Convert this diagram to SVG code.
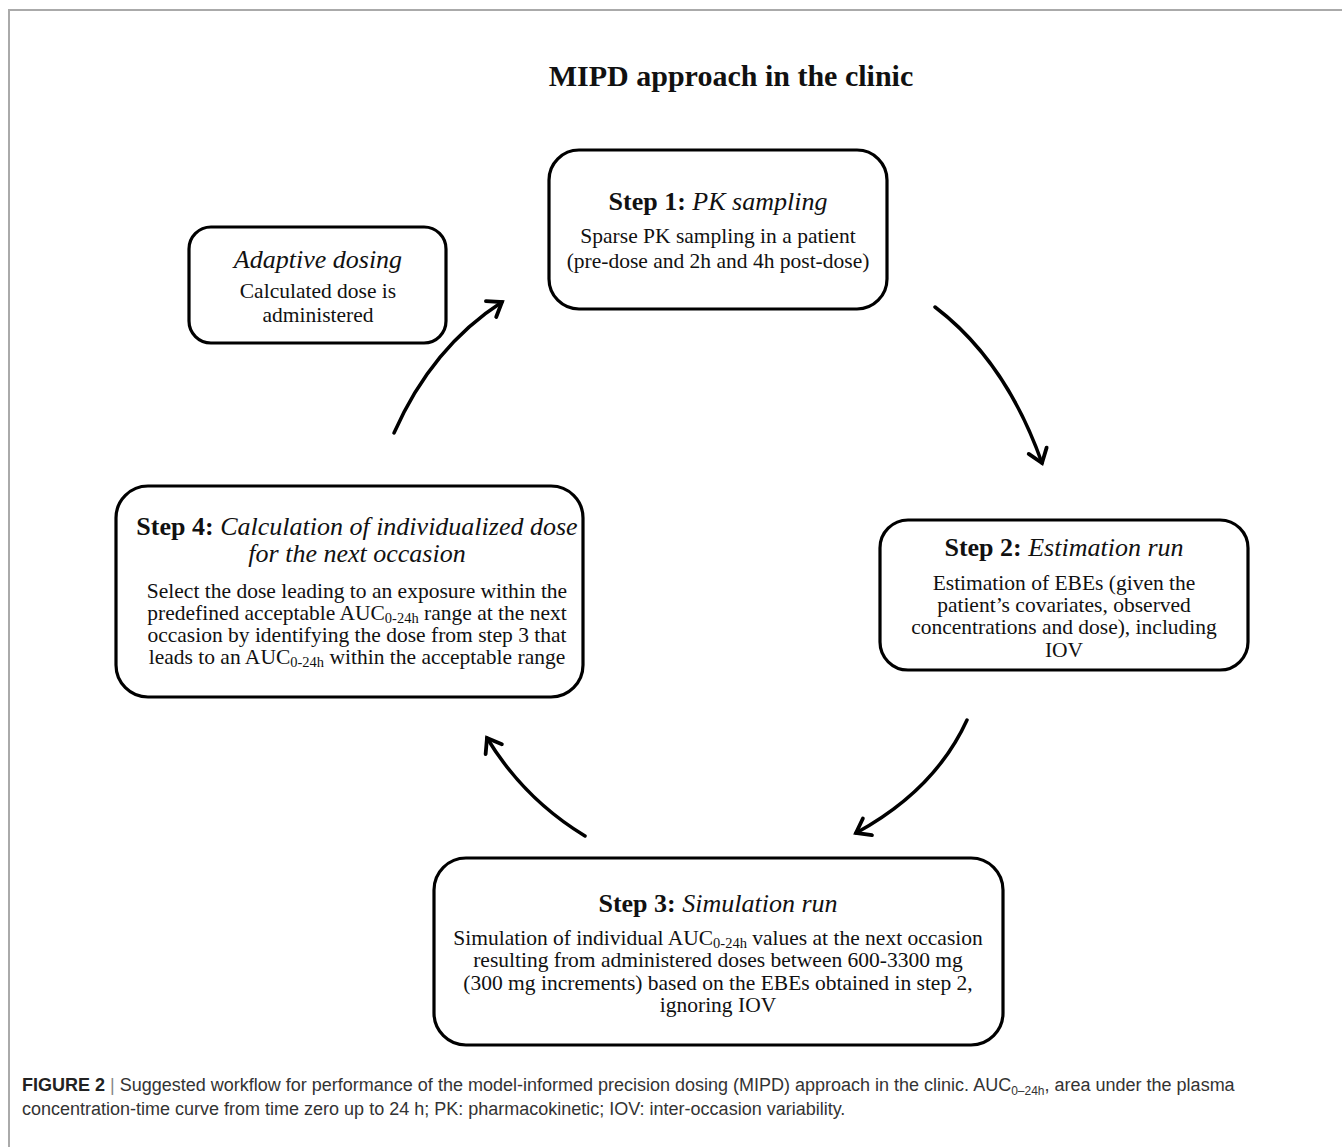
<svg xmlns="http://www.w3.org/2000/svg" width="1342" height="1147" viewBox="0 0 1342 1147">
<style>
.frame{fill:none;stroke:#aaaaaa;stroke-width:2}
.box{fill:#ffffff;stroke:#000000;stroke-width:3.2}
.t{font-family:"Liberation Serif","Times New Roman",serif;fill:#111111;text-anchor:middle}
.h{font-size:26px}
.b{font-size:21.5px}
.bold{font-weight:bold}
.it{font-style:italic}
.sub{font-size:14.5px}
.conn{fill:none;stroke:#000000;stroke-width:3.5;stroke-linecap:round}
.cap{font-family:"Liberation Sans",Arial,sans-serif;font-size:18px;fill:#333333}
</style>
<defs>
<marker id="ah" markerUnits="userSpaceOnUse" markerWidth="26" markerHeight="26" refX="15" refY="13" orient="auto" viewBox="0 0 26 26">
<path d="M2,3.5 L15,13 L2,22.5" fill="none" stroke="#000000" stroke-width="3.8" stroke-linecap="round" stroke-linejoin="miter"/>
</marker>
</defs>
<rect x="0" y="0" width="1342" height="1147" fill="#ffffff"/>
<path class="frame" d="M9,1147 L9,10 L1342,10"/>
<text class="t bold" x="731" y="86" style="font-size:30px">MIPD approach in the clinic</text>

<g id="step1">
<rect class="box" x="549" y="150" width="338" height="159" rx="30"/>
<text class="t h" x="718" y="210"><tspan class="bold">Step 1: </tspan><tspan class="it">PK sampling</tspan></text>
<text class="t b" x="718" y="243">Sparse PK sampling in a patient</text>
<text class="t b" x="718" y="268">(pre-dose and 2h and 4h post-dose)</text>
</g>

<g id="adaptive">
<rect class="box" x="189" y="227" width="257" height="116" rx="22"/>
<text class="t h it" x="318" y="268">Adaptive dosing</text>
<text class="t b" x="318" y="298">Calculated dose is</text>
<text class="t b" x="318" y="322">administered</text>
</g>

<g id="step2">
<rect class="box" x="880" y="520" width="368" height="150" rx="28"/>
<text class="t h" x="1064" y="556"><tspan class="bold">Step 2: </tspan><tspan class="it">Estimation run</tspan></text>
<text class="t b" x="1064" y="590">Estimation of EBEs (given  the</text>
<text class="t b" x="1064" y="612">patient’s covariates, observed</text>
<text class="t b" x="1064" y="634">concentrations and dose), including</text>
<text class="t b" x="1064" y="657">IOV</text>
</g>

<g id="step4">
<rect class="box" x="116" y="486" width="467" height="211" rx="32"/>
<text class="t h" x="357" y="535"><tspan class="bold">Step 4: </tspan><tspan class="it">Calculation of individualized dose</tspan></text>
<text class="t h it" x="357" y="562">for the next occasion</text>
<text class="t b" x="357" y="598">Select the dose leading to an exposure within the</text>
<text class="t b" x="357" y="620">predefined acceptable AUC<tspan class="sub" dy="3">0-24h</tspan><tspan dy="-3"> range at the next</tspan></text>
<text class="t b" x="357" y="642">occasion by identifying the dose from step 3 that</text>
<text class="t b" x="357" y="664">leads to an AUC<tspan class="sub" dy="3">0-24h</tspan><tspan dy="-3"> within the acceptable range</tspan></text>
</g>

<g id="step3">
<rect class="box" x="434" y="858" width="569" height="187" rx="32"/>
<text class="t h" x="718" y="912"><tspan class="bold">Step 3: </tspan><tspan class="it">Simulation run</tspan></text>
<text class="t b" x="718" y="945">Simulation of individual AUC<tspan class="sub" dy="3">0-24h</tspan><tspan dy="-3"> values at the next occasion</tspan></text>
<text class="t b" x="718" y="967">resulting from administered doses between 600-3300 mg</text>
<text class="t b" x="718" y="990">(300 mg increments) based on the EBEs obtained in step 2,</text>
<text class="t b" x="718" y="1012">ignoring IOV</text>
</g>

<g id="connectors">
<path class="conn" d="M394,433 Q432,347 502,302" marker-end="url(#ah)"/>
<path class="conn" d="M935,307 Q1006,361 1042,463" marker-end="url(#ah)"/>
<path class="conn" d="M967,720 Q935,790 856,833" marker-end="url(#ah)"/>
<path class="conn" d="M585,836 Q524,799 487,738" marker-end="url(#ah)"/>
</g>

<text class="cap" x="22" y="1091"><tspan font-weight="bold" fill="#222222">FIGURE 2</tspan> <tspan fill="#888888">|</tspan> Suggested workflow for performance of the model-informed precision dosing (MIPD) approach in the clinic. AUC<tspan font-size="12px" dy="4">0–24h</tspan><tspan dy="-4">, area under the plasma</tspan></text>
<text class="cap" x="22" y="1115">concentration-time curve from time zero up to 24 h; PK: pharmacokinetic; IOV: inter-occasion variability.</text>
</svg>
